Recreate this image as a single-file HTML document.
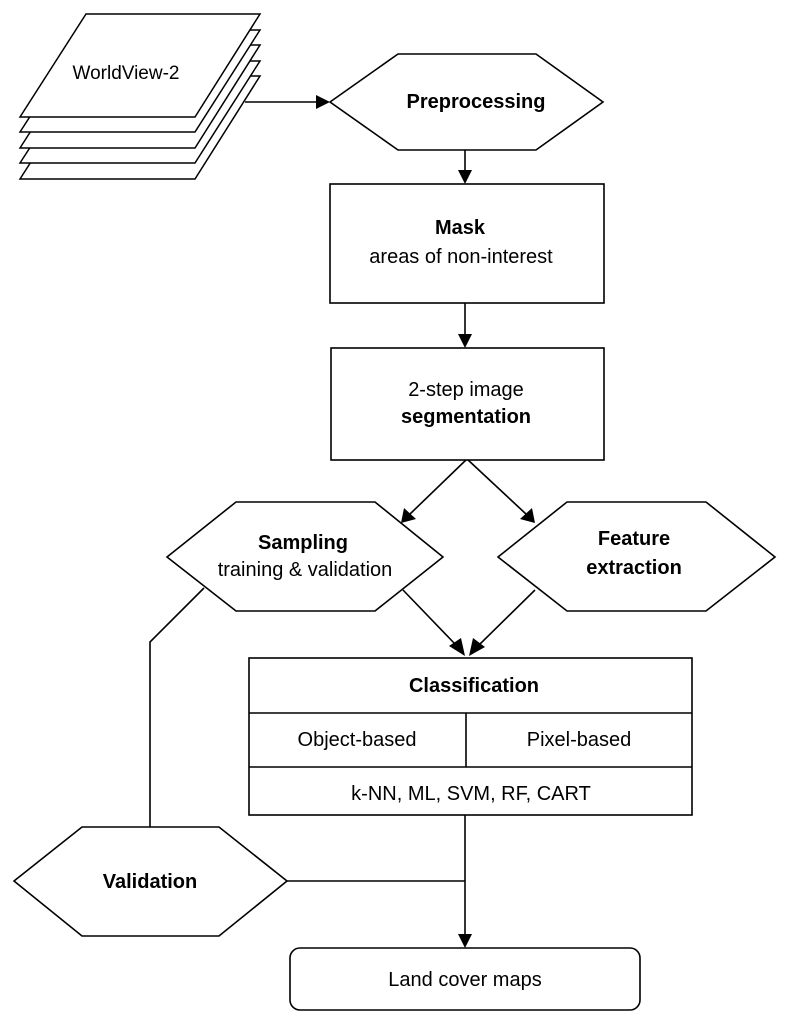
<!DOCTYPE html>
<html><head><meta charset="utf-8"><style>
html,body{margin:0;padding:0;background:#fff;}
svg{display:block;}
text{font-family:"Liberation Sans",Arial,sans-serif;fill:#000;}
.b{font-weight:bold;}
</style></head><body>
<svg width="786" height="1024" viewBox="0 0 786 1024" xmlns="http://www.w3.org/2000/svg">
<g fill="#fff" stroke="#000" stroke-width="1.5">
<polygon points="20,179 86,76 260,76 195,179"/>
<polygon points="20,163 86,61 260,61 195,163"/>
<polygon points="20,148 86,45 260,45 195,148"/>
<polygon points="20,132 86,30 260,30 195,132"/>
<polygon points="20,117 86,14 260,14 195,117"/>
</g>
<text x="126" y="79" font-size="19" text-anchor="middle">WorldView-2</text>
<g stroke="#000" stroke-width="1.6" fill="none">
<line x1="245" y1="102" x2="318" y2="102"/>
<line x1="465" y1="150" x2="465" y2="170"/>
<line x1="465" y1="303" x2="465" y2="334"/>
<line x1="467" y1="459" x2="410" y2="514"/>
<line x1="467" y1="459" x2="526" y2="514"/>
<line x1="403" y1="590" x2="455" y2="644"/>
<line x1="535" y1="590" x2="480" y2="644"/>
<polyline points="204,588 150,642 150,827"/>
<line x1="287" y1="881" x2="465" y2="881"/>
<line x1="465" y1="815" x2="465" y2="934"/>
</g>
<g fill="#000">
<polygon points="330,102 316,95 316,109"/>
<polygon points="465,184 458,170 472,170"/>
<polygon points="465,348 458,334 472,334"/>
<polygon points="401,523 404,508 416,519"/>
<polygon points="535,523 520,519 532,508"/>
<polygon points="465,656 449,646 461,638"/>
<polygon points="469,656 473,638 485,647"/>
<polygon points="465,948 458,934 472,934"/>
</g>
<g fill="#fff" stroke="#000" stroke-width="1.6">
<polygon points="330,102 398,54 536,54 603,102 536,150 398,150"/>
<rect x="330" y="184" width="274" height="119"/>
<rect x="331" y="348" width="273" height="112"/>
<polygon points="167,557 236,502 375,502 443,557 375,611 236,611"/>
<polygon points="498,557 567,502 706,502 775,557 706,611 567,611"/>
<rect x="249" y="658" width="443" height="157"/>
<line x1="249" y1="713" x2="692" y2="713"/>
<line x1="249" y1="767" x2="692" y2="767"/>
<line x1="466" y1="713" x2="466" y2="767"/>
<polygon points="14,881 82,827 219,827 287,881 219,936 82,936"/>
<rect x="290" y="948" width="350" height="62" rx="10" ry="10"/>
</g>
<text x="476" y="108" font-size="20" class="b" text-anchor="middle">Preprocessing</text>
<text x="460" y="234" font-size="20" class="b" text-anchor="middle">Mask</text>
<text x="461" y="263" font-size="20" text-anchor="middle">areas of non-interest</text>
<text x="466" y="396" font-size="20" text-anchor="middle">2-step image</text>
<text x="466" y="423" font-size="20" class="b" text-anchor="middle">segmentation</text>
<text x="303" y="549" font-size="20" class="b" text-anchor="middle">Sampling</text>
<text x="305" y="576" font-size="20" text-anchor="middle">training &amp; validation</text>
<text x="634" y="545" font-size="20" class="b" text-anchor="middle">Feature</text>
<text x="634" y="574" font-size="20" class="b" text-anchor="middle">extraction</text>
<text x="474" y="692" font-size="20" class="b" text-anchor="middle">Classification</text>
<text x="357" y="746" font-size="20" text-anchor="middle">Object-based</text>
<text x="579" y="746" font-size="20" text-anchor="middle">Pixel-based</text>
<text x="471" y="800" font-size="20" text-anchor="middle">k-NN, ML, SVM, RF, CART</text>
<text x="150" y="888" font-size="20" class="b" text-anchor="middle">Validation</text>
<text x="465" y="986" font-size="20" text-anchor="middle">Land cover maps</text>
</svg>
</body></html>
